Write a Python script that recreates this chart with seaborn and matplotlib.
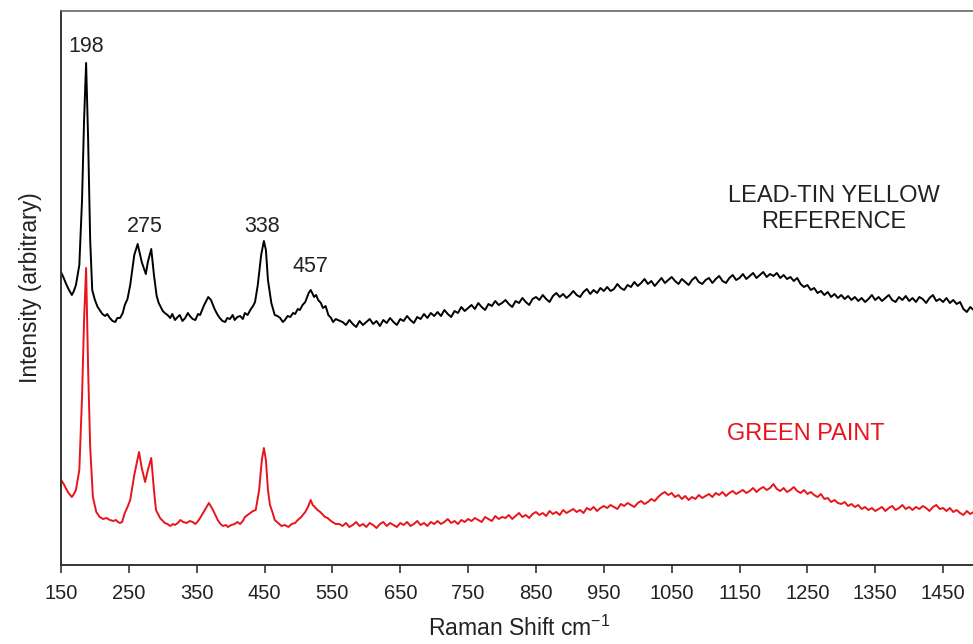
import matplotlib
matplotlib.use("Agg")
import matplotlib.pyplot as plt
import seaborn as sns
import pandas as pd

# ---- data (Raman shift in cm-1, intensity in arbitrary units) ----
ref_x_peaks = [150, 154, 157, 161, 166, 169, 172, 177, 181, 184,
               187, 190, 193, 196, 200, 204, 207, 211, 215, 218,
               222, 226, 230, 233, 237, 241, 244, 248, 252, 258,
               263, 269, 275, 278, 283, 287, 291, 294, 297, 300,
               303, 307, 311, 314, 318, 322, 325, 329, 333, 337,
               340, 344, 348, 352, 355, 361, 367, 371, 374, 377,
               381, 384, 388, 392, 395, 399, 403, 406, 410, 414,
               418, 421, 425, 429, 433, 436, 440, 445, 449, 452,
               455, 460, 465, 469, 473, 477, 480, 484, 488, 492,
               495, 499, 502, 506, 510, 515, 518, 521, 523, 526,
               529, 533, 536, 540, 544, 548, 551, 555, 558]
ref_y_peaks = [293, 287, 282, 276, 270, 274, 280, 300, 365, 445,
               502, 425, 325, 275, 265, 258, 255, 251, 249, 251,
               247, 244, 243, 247, 247, 252, 260, 266, 280, 310,
               321, 303, 291, 303, 316, 290, 269, 262, 258, 254,
               252, 250, 247, 251, 245, 248, 250, 244, 247, 252,
               249, 246, 245, 251, 250, 260, 268, 265, 260, 255,
               250, 247, 244, 243, 247, 246, 250, 245, 248, 249,
               246, 252, 250, 255, 259, 263, 280, 310, 324, 315,
               285, 262, 250, 249, 247, 243, 245, 249, 248, 252,
               251, 256, 255, 260, 263, 272, 275, 271, 268, 270,
               265, 262, 257, 259, 250, 247, 243, 246, 245]
ref_x_base = list(range(565, 1501, 5))
ref_y_base = [243, 240, 245, 241, 238, 244, 240, 243,
              246, 241, 244, 239, 245, 242, 247, 243, 240, 246,
              244, 249, 245, 242, 248, 246, 251, 247, 252, 249,
              253, 249, 255, 251, 248, 254, 252, 258, 254, 257,
              260, 256, 262, 258, 255, 261, 259, 264, 260, 262,
              265, 261, 258, 264, 262, 267, 263, 260, 266, 268,
              265, 270, 266, 263, 269, 272, 268, 271, 267, 270,
              274, 270, 268, 273, 276, 271, 275, 272, 277, 274,
              278, 274, 276, 281, 277, 275, 280, 278, 283, 279,
              282, 286, 281, 284, 279, 283, 287, 282, 285, 288,
              284, 281, 286, 283, 280, 285, 288, 283, 281, 285,
              287, 282, 286, 289, 284, 282, 287, 290, 285, 287,
              291, 286, 289, 292, 287, 290, 293, 288, 291, 289,
              292, 287, 290, 286, 288, 284, 287, 281, 278, 280,
              275, 277, 272, 274, 270, 273, 268, 271, 267, 270,
              266, 269, 265, 268, 264, 267, 263, 266, 270, 265,
              268, 264, 267, 270, 265, 263, 268, 265, 269, 264,
              267, 263, 268, 266, 262, 267, 270, 264, 266, 263,
              267, 262, 265, 261, 263, 256, 253, 258, 255, 259]

paint_x_peaks = [150, 154, 157, 161, 166, 169, 172, 177, 181, 184,
                 187, 190, 193, 197, 202, 207, 212, 217, 222, 227,
                 231, 234, 237, 240, 244, 248, 252, 258, 265, 269,
                 274, 278, 283, 287, 290, 296, 303, 307, 311, 315,
                 318, 322, 326, 330, 335, 340, 344, 348, 352, 355,
                 362, 368, 374, 381, 385, 389, 393, 396, 401, 406,
                 410, 414, 418, 421, 425, 429, 433, 437, 442, 446,
                 449, 452, 455, 458, 462, 465, 470, 475, 480, 485,
                 490, 495, 499, 504, 510, 514, 518, 521, 524, 528,
                 532, 535, 539, 543, 546, 550, 555]
paint_y_peaks = [85, 81, 77, 72, 68, 71, 75, 95, 168, 245,
                 297, 195, 118, 68, 53, 48, 46, 47, 45, 44,
                 45, 43, 42, 43, 52, 58, 65, 90, 113, 97,
                 83, 95, 107, 75, 55, 47, 42, 41, 39, 41,
                 40, 42, 45, 43, 42, 44, 43, 41, 44, 47,
                 55, 62, 55, 45, 41, 39, 40, 38, 40, 41,
                 43, 41, 44, 48, 50, 52, 54, 55, 75, 105,
                 117, 105, 75, 60, 52, 45, 42, 39, 40, 38,
                 41, 42, 45, 48, 53, 58, 65, 60, 58, 55,
                 53, 51, 48, 47, 45, 43, 41]
paint_x_base = list(range(560, 1501, 5))
paint_y_base = [41,
                39, 42, 38, 40, 43, 39, 41, 38,
                42, 40, 37, 41, 43, 39, 42, 40, 38, 42,
                40, 43, 39, 41, 44, 40, 42, 39, 43, 41,
                44, 41, 43, 46, 42, 44, 41, 45, 43, 46,
                44, 47, 45, 43, 48, 46, 44, 49, 46, 48,
                47, 50, 46, 49, 52, 48, 50, 47, 51, 53,
                50, 52, 49, 54, 51, 53, 50, 55, 52, 54,
                56, 53, 55, 52, 57, 55, 58, 54, 57, 59,
                57, 60, 58, 56, 61, 59, 62, 60, 58, 62,
                64, 61, 63, 66, 64, 68, 71, 73, 70, 72,
                68, 70, 66, 69, 65, 68, 66, 70, 67, 69,
                71, 68, 72, 70, 73, 69, 72, 74, 71, 73,
                75, 72, 74, 77, 73, 76, 78, 75, 77, 81,
                76, 74, 77, 73, 75, 78, 74, 72, 75, 71,
                73, 70, 68, 71, 66, 67, 63, 65, 62, 61,
                63, 59, 61, 58, 60, 56, 58, 55, 57, 54,
                56, 58, 54, 57, 59, 55, 57, 60, 56, 58,
                55, 58, 56, 59, 57, 54, 58, 60, 56, 57,
                54, 57, 53, 55, 52, 50, 54, 51, 53, 52]

peak_labels = ["198", "275", "338", "457"]
peak_label_x = [187, 274, 446, 518]
peak_label_y = [518, 339, 339, 298]

xtick_values = list(range(150, 1451, 100))

ref = pd.DataFrame({"shift": ref_x_peaks + ref_x_base, "intensity": ref_y_peaks + ref_y_base})
paint = pd.DataFrame({"shift": paint_x_peaks + paint_x_base, "intensity": paint_y_peaks + paint_y_base})

sns.set_style("white")
plt.rcParams["font.family"] = ["Liberation Sans", "DejaVu Sans"]

fig = plt.figure(figsize=(9.73, 6.44), dpi=100)
ax = fig.add_axes([61 / 973, 79 / 644, 916 / 973, 554 / 644])

sns.lineplot(data=ref, x="shift", y="intensity", color="black", linewidth=1.4, ax=ax)
sns.lineplot(data=paint, x="shift", y="intensity", color="#e8141c", linewidth=1.4, ax=ax)

ax.set_xlim(150, 1500)
ax.set_ylim(0, 554)
ax.set_xticks(xtick_values)
ax.set_xticklabels([str(v) for v in xtick_values], fontsize=14.5, color="#222222")
ax.set_yticks([])
ax.tick_params(axis="x", direction="out", length=6, width=1.2, color="#333333", pad=8, bottom=True)

for side in ["left", "bottom"]:
    ax.spines[side].set_color("#333333")
    ax.spines[side].set_linewidth(1.4)
ax.spines["top"].set_color("#666666")
ax.spines["top"].set_linewidth(1.2)
ax.spines["right"].set_visible(False)

ax.set_xlabel("Raman Shift cm$^{\\mathregular{-1}}$", fontsize=16.5, color="#222222", labelpad=9)
ax.set_ylabel("Intensity (arbitrary)", fontsize=16.5, color="#222222", labelpad=14)

for lab, lx, ly in zip(peak_labels, peak_label_x, peak_label_y):
    ax.text(lx, ly, lab, ha="center", va="center", fontsize=15.5, color="#222222")

ax.text(1289, 356, "LEAD-TIN YELLOW\nREFERENCE", ha="center", va="center",
        fontsize=17, color="#222222", linespacing=1.2)
ax.text(1248, 131, "GREEN PAINT", ha="center", va="center", fontsize=17, color="#e8141c")

fig.savefig("out.png", dpi=100)
